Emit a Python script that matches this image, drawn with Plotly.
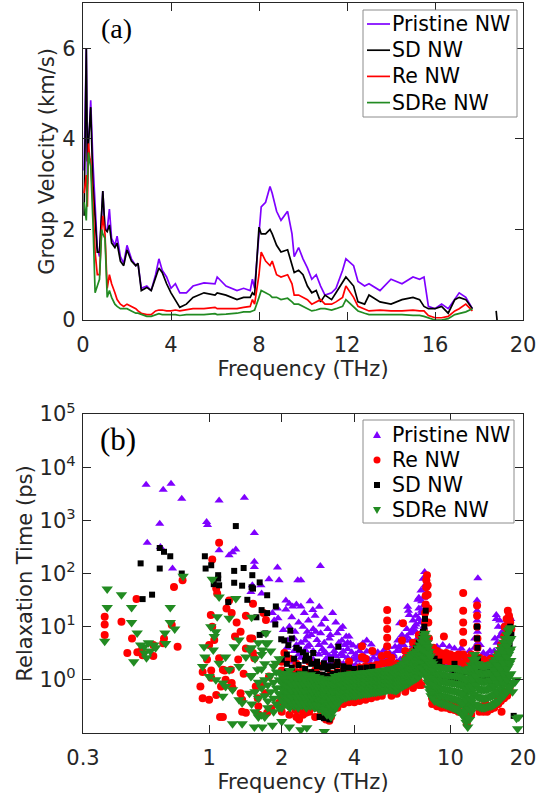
import plotly.graph_objects as go
import math

# ---------------- Panel (a): group velocity (km/s) vs frequency (THz) ----------------
freq_a = [0.05, 0.15, 0.2, 0.25, 0.3, 0.35, 0.45, 0.55, 0.65, 0.75, 0.85, 0.9, 1.0, 1.1, 1.2, 1.3,
          1.45, 1.55, 1.7, 1.85, 2.0, 2.2, 2.4, 2.5, 2.65, 2.9, 3.1, 3.3, 3.45, 3.6, 3.8, 4.0,
          4.2, 4.4, 4.7, 5.0, 5.5, 6.0, 6.1, 6.5, 7.0, 7.3, 7.6, 7.7, 7.8, 8.0, 8.1, 8.3,
          8.5, 8.6, 8.8, 9.0, 9.3, 9.5, 9.6, 9.8, 10.0, 10.2, 10.4, 10.6, 10.8, 11.0, 11.3, 11.5,
          11.8, 11.95, 12.3, 12.5, 12.8, 13.0, 13.5, 14.0, 14.5, 15.0, 15.3, 15.5, 15.7, 16.0,
          16.3, 16.6, 16.9, 17.1, 17.4, 17.7]
vg_pristine = [3.3, 6.0, 3.0, 4.0, 4.3, 4.85, 3.5, 2.5, 1.6, 1.4, 2.2, 2.85, 2.0, 2.0, 2.45, 1.8,
               1.65, 1.85, 1.4, 1.25, 1.65, 1.35, 1.2, 1.25, 0.7, 0.75, 0.65, 1.0, 1.35, 1.1, 0.95, 0.7,
               0.8, 0.6, 0.6, 0.75, 0.82, 0.8, 0.95, 0.75, 0.65, 0.7, 0.65, 0.9, 0.7, 1.9, 2.5, 2.6,
               2.95, 2.8, 2.4, 2.2, 2.4, 1.9, 1.4, 1.6, 1.35, 1.15, 0.9, 1.0, 0.75, 0.55, 0.6, 0.7,
               1.1, 1.35, 1.2, 0.85, 0.75, 0.8, 0.65, 0.9, 0.8, 0.95, 0.9, 0.95, 0.3, 0.25,
               0.35, 0.25, 0.45, 0.6, 0.5, 0.25]
vg_sd = [2.3, 6.0, 3.5, 4.0, 4.2, 4.7, 3.0, 2.2, 1.5, 1.5, 2.3, 2.85, 2.0, 1.95, 2.1, 1.7,
         1.6, 1.7, 1.3, 1.2, 1.55, 1.3, 1.2, 1.25, 0.65, 0.72, 0.65, 0.95, 1.15, 1.05, 0.8, 0.6,
         0.45, 0.28, 0.35, 0.5, 0.6, 0.55, 0.6, 0.55, 0.45, 0.5, 0.5, 0.6, 0.55, 2.05, 1.9, 1.9,
         2.0, 1.9, 1.65, 1.5, 1.55, 1.2, 1.05, 1.1, 1.0, 0.75, 0.6, 0.65, 0.4, 0.55, 0.45, 0.6,
         0.85, 0.95, 0.75, 0.4, 0.35, 0.55, 0.4, 0.35, 0.45, 0.5, 0.45, 0.3, 0.25, 0.25,
         0.3, 0.15, 0.45, 0.5, 0.45, 0.25]
vg_re = [2.8, 3.2, 2.5, 3.9, 3.6, 3.5, 2.6, 1.5, 1.0, 1.0, 2.0, 2.3, 1.9, 0.7, 1.0, 0.8,
         0.6, 0.45, 0.35, 0.3, 0.35, 0.3, 0.25, 0.2, 0.15, 0.12, 0.12, 0.2, 0.22, 0.22, 0.2, 0.2,
         0.22, 0.2, 0.22, 0.25, 0.25, 0.28, 0.25, 0.25, 0.25, 0.28, 0.3, 0.45, 0.35, 1.0, 1.5, 1.3,
         1.2, 1.3, 1.0, 0.95, 1.0, 0.8, 0.55, 0.55, 0.5, 0.45, 0.35, 0.4, 0.45, 0.35, 0.35, 0.4,
         0.5, 0.75, 0.5, 0.3, 0.25, 0.2, 0.22, 0.2, 0.2, 0.22, 0.2, 0.2, 0.1, 0.05,
         0.05, 0.08, 0.2, 0.25, 0.35, 0.2]
vg_sdre = [2.6, 2.2, 3.0, 3.7, 3.5, 3.4, 2.2, 0.6, 0.75, 0.9, 2.0, 1.9, 1.8, 0.5, 0.65, 0.5,
           0.35, 0.3, 0.25, 0.25, 0.25, 0.2, 0.15, 0.15, 0.12, 0.08, 0.08, 0.12, 0.14, 0.12, 0.12, 0.12,
           0.12, 0.1, 0.12, 0.12, 0.12, 0.14, 0.12, 0.13, 0.15, 0.18, 0.18, 0.2, 0.22, 0.5, 0.65, 0.6,
           0.55, 0.5, 0.5, 0.45, 0.48, 0.4, 0.35, 0.35, 0.3, 0.25, 0.2, 0.22, 0.25, 0.25, 0.22, 0.25,
           0.3, 0.45, 0.28, 0.2, 0.15, 0.12, 0.12, 0.12, 0.12, 0.1, 0.1, 0.08, 0.05, 0.0,
           0.0, 0.03, 0.12, 0.15, 0.18, 0.25]
tail_f = [18.78, 18.8, 18.82]
tail_sd = [0.2, 0.12, 0.0]

# ---------------- Panel (b): relaxation time (ps) vs frequency (THz) ----------------
pristine_pts = [
    (0.548, 4660), (0.645, 3760), (0.695, 4870), (0.77, 2560), (0.624, 865), (0.554, 380), (0.628, 316),
    (0.705, 124), (0.976, 930), (0.985, 820), (1.10, 2370), (1.40, 2660), (1.10, 274), (1.21, 221),
    (1.29, 284), (1.25, 250), (1.54, 577), (1.54, 166), (1.54, 133), (1.51, 60), (1.64, 60), (1.65, 42),
    (1.77, 78), (1.95, 75), (1.92, 130), (1.49, 45), (2.33, 75), (2.4, 75), (2.08, 31), (2.15, 27),
    (2.22, 24), (2.3, 26), (2.4, 24), (2.69, 20.6), (1.92, 22), (1.83, 18), (1.93, 14.4), (2.08, 21),
    (2.45, 10), (2.55, 8), (2.65, 7), (2.8, 5.6), (2.7, 9), (2.15, 10), (2.03, 8.7), (2.3, 4.5),
    (2.5, 3.65), (1.86, 13), (2.89, 138), (2.86, 23.7), (3.25, 18), (3.58, 10), (3.4, 7.5), (3.7, 6.5),
    (3.8, 6.5), (3.65, 4.5), (2.77, 8), (3.0, 5), (2.95, 3.8), (3.2, 4.3), (3.35, 2.8), (3.9, 3.3),
    (4.0, 2.5), (4.1, 2.7), (4.34, 4.9), (4.7, 4.6), (4.5, 3.4), (4.85, 3.1), (5.2, 2.9), (3.05, 2.5),
    (3.3, 3.5), (3.5, 3.0), (3.55, 5.5), (3.75, 3.8), (3.95, 4.4), (4.2, 3.5), (4.4, 2.4), (4.6, 2.2),
    (4.9, 2.0), (5.0, 2.4), (5.4, 2.3), (5.6, 2.6), (5.8, 3.0), (6.05, 5.5), (6.15, 4.0), (6.25, 3.5),
    (5.67, 2.7), (5.67, 2.1), (6.16, 11.6), (6.65, 23.7), (6.7, 20), (6.75, 16.6), (7.33, 32), (7.82, 107),
    (7.7, 80), (7.55, 48), (7.4, 35), (7.0, 13), (7.1, 10), (7.2, 8), (6.9, 8), (6.5, 6), (6.4, 4.5),
    (6.8, 5.5), (7.0, 4.5), (7.3, 6), (7.5, 12), (7.6, 18), (7.75, 25), (7.85, 60), (7.9, 40), (6.6, 9),
    (6.3, 7), (5.9, 4.2), (8.1, 4.5), (8.3, 3.8), (8.5, 3.5), (8.8, 4.2), (9.1, 3.2), (9.3, 4.5),
    (9.6, 3.0), (9.9, 4.2), (10.4, 3.9), (11.0, 3.2), (11.1, 3.9), (11.6, 2.7), (12.0, 3.5), (10.7, 2.6),
    (8.7, 2.6), (9.5, 2.4), (10.2, 2.5), (11.4, 2.2), (12.3, 2.6), (13.0, 81), (12.9, 31), (12.9, 20),
    (12.9, 13), (12.95, 8), (13.0, 5), (13.3, 4.5), (13.7, 3.2), (14.2, 3.0), (14.6, 3.5), (15.0, 2.6),
    (13.9, 2.4), (15.5, 14), (15.8, 10), (15.5, 16.6), (16.0, 13), (16.5, 10), (17.3, 11.6), (17.6, 13),
    (15.3, 6), (16.2, 7), (16.8, 8), (17.8, 14),
    (2.12, 5.5), (2.2, 15), (2.27, 8), (2.35, 12), (2.48, 18), (2.58, 13), (2.62, 30), (2.75, 16),
    (2.92, 11), (3.02, 14), (3.1, 9), (3.18, 7), (3.35, 12), (3.5, 9), (2.5, 5.5), (2.35, 3), (2.6, 4.5),
    (2.9, 7.5), (3.05, 3.2), (3.6, 3.4), (3.85, 4.8), (4.15, 4.2), (4.5, 5.5), (4.65, 3.5), (5.0, 3.3),
    (5.3, 3.6), (5.55, 4.2),
]
pristine_band = {
    2.1: [2.5, 4], 2.25: [2.2, 3.5, 6], 2.4: [2.6, 5], 2.55: [2.2, 4.2, 6.5], 2.7: [2.4, 3.5],
    2.85: [2.0, 3.0, 4.5], 3.0: [2.2, 3.4], 3.15: [2.0, 2.8, 6], 3.3: [2.1, 3.0], 3.45: [2.2, 4.0, 5],
    3.6: [2.0, 2.8], 3.75: [2.0, 2.6, 5], 3.9: [1.9, 2.4], 4.05: [1.9, 3.0], 4.2: [1.8, 2.3],
    4.4: [1.8, 2.8], 4.6: [1.8, 2.4], 4.8: [1.8, 2.6], 5.0: [1.8, 2.2], 5.2: [1.9, 2.5], 5.4: [1.9, 2.6],
    5.6: [2.0, 3.2], 5.8: [2.0, 2.8], 6.0: [2.2, 3.5], 6.2: [2.4, 4.5], 6.4: [2.6, 5.5], 6.6: [3.0, 6.5],
    6.8: [3.5, 7.5], 7.0: [4, 9], 7.2: [5, 11, 16], 7.4: [6, 14, 22], 7.6: [8, 20, 30], 7.75: [10, 35, 50],
    8.2: [2.5, 3.2], 8.4: [2.2, 3.0], 8.7: [2.0, 3.2], 9.0: [2.0, 2.8], 9.3: [2.0, 3.0], 9.6: [1.9, 2.7],
    9.9: [1.9, 2.6], 10.2: [1.8, 2.8], 10.5: [1.8, 2.5], 10.8: [1.8, 2.6], 11.1: [1.7, 2.4],
    11.4: [1.7, 2.5], 11.7: [1.8, 2.2], 12.0: [2.0, 2.8], 12.3: [2.0, 3.0], 12.6: [2.2, 4, 6],
    13.3: [1.8, 2.5], 13.6: [1.7, 2.3], 14.0: [1.7, 2.4], 14.4: [1.8, 2.6], 14.8: [1.9, 2.8],
    15.2: [2.2, 3.5], 15.6: [2.8, 5], 16.0: [3.5, 6.5], 16.4: [4.5, 8], 16.8: [5.5, 10], 17.2: [7, 12],
    17.6: [9, 15],
}

re_pts = [
    (0.369, 15.4), (0.369, 11), (0.369, 7), (0.433, 12.4), (0.458, 3.2), (0.479, 6), (0.504, 3.3),
    (0.5, 33), (0.527, 3.7), (0.53, 2.9), (0.587, 4.5), (0.587, 2.8), (0.715, 56), (0.70, 10.7),
    (0.645, 4.9), (0.74, 4.2), (0.776, 75), (0.65, 6), (1.10, 380), (1.03, 183), (1.07, 52), (1.08, 42),
    (1.016, 16.6), (1.03, 10), (1.05, 5.6), (1.10, 2.55), (0.92, 0.75), (0.94, 0.45), (1.0, 0.42),
    (1.07, 0.52), (1.12, 0.75), (1.17, 1.0), (1.25, 0.7), (1.35, 0.56), (1.37, 0.25), (1.42, 0.24),
    (1.59, 0.45), (1.61, 0.22), (1.81, 0.29), (1.95, 0.37), (1.14, 0.2), (1.56, 0.75), (1.66, 0.87),
    (1.77, 1.15), (1.51, 6), (1.72, 13.3), (1.42, 3.9), (1.54, 2.55), (1.23, 1.54), (1.14, 1.54),
    (0.98, 2.4), (1.02, 1.5), (1.02, 1.1), (1.0, 4.5), (0.94, 1.4), (1.18, 22), (1.24, 18), (1.42, 16),
    (1.48, 6), (1.52, 3.2), (1.39, 1.3), (1.37, 0.42), (1.24, 0.87), (1.16, 1.5), (1.32, 2.4),
    (1.6, 0.32), (1.74, 0.24), (1.71, 0.56), (1.52, 27), (1.68, 18), (1.21, 31), (1.3, 12), (1.35, 8),
    (1.28, 6.5), (1.11, 0.2), (2.05, 3.2), (2.2, 1.3), (2.36, 0.18), (2.28, 0.27), (2.52, 0.24),
    (2.8, 0.32), (3.15, 0.17), (2.33, 0.27), (2.11, 0.7), (4.3, 2.7), (4.3, 4.3), (4.75, 3.5),
    (5.47, 2.1), (5.47, 3.0), (5.47, 4.3), (5.47, 6.2), (5.47, 9), (5.47, 13), (5.47, 20.6),
    (6.36, 11.6), (6.3, 5.5), (7.75, 3), (7.8, 5), (7.8, 8), (7.85, 12), (7.85, 18), (7.9, 26), (7.9, 38),
    (7.95, 55), (7.95, 75), (8.0, 93), (8.05, 60), (8.05, 40), (8.1, 22), (8.1, 12), (8.15, 6),
    (7.6, 0.8), (9.4, 6.5), (8.5, 4.0), (9.1, 3.2), (9.8, 3.0), (10.8, 3.0), (11.3, 43), (11.3, 20),
    (11.3, 12), (11.3, 8), (11.3, 5), (11.3, 3), (11.4, 2), (11.7, 0.15), (12.1, 0.3), (12.9, 25),
    (12.9, 16), (12.9, 10), (12.95, 6), (12.95, 4), (13.0, 2.5), (17.3, 20), (17.5, 16), (17.1, 14),
    (17.7, 12), (16.8, 10), (17.9, 9), (16.3, 0.25), (15.8, 0.35), (14.0, 0.35), (14.8, 0.3),
]
re_band = {
    2.0: [0.25, 0.5, 1.5, 2.2], 2.15: [0.22, 0.35, 1.2, 2.5], 2.3: [0.2, 0.3, 1.4, 2.0],
    2.45: [0.22, 0.28, 1.6], 2.6: [0.25, 0.35, 1.3, 2.2], 2.75: [0.2, 0.3, 1.5], 2.9: [0.22, 0.35, 1.2, 1.8],
    3.05: [0.18, 0.25, 1.1], 3.2: [0.2, 0.3, 1.3], 3.4: [0.3, 0.38, 1.4, 2.0], 3.6: [0.35, 0.42, 1.5],
    3.8: [0.38, 0.45, 1.6, 2.2], 4.0: [0.38, 0.45, 1.5], 4.2: [0.4, 0.48, 1.7], 4.45: [0.42, 0.5, 1.8, 2.5],
    4.7: [0.45, 0.52, 1.8], 4.95: [0.48, 0.55, 1.9], 5.2: [0.5, 0.58, 2.0, 2.8], 5.7: [0.5, 0.6, 1.9, 2.6],
    6.0: [0.55, 0.62, 2.0], 6.5: [0.6, 0.7, 2.5, 3.5], 7.0: [0.7, 0.8, 3.5, 5], 7.4: [0.8, 0.95, 4.5, 7],
    8.4: [0.35, 0.45, 2.4, 3.4], 8.8: [0.32, 0.4, 2.5, 3.5], 9.2: [0.3, 0.4, 2.2, 3.0],
    9.6: [0.3, 0.38, 2.3, 3.2], 10.0: [0.28, 0.36, 2.2, 3.0], 10.4: [0.27, 0.34, 2.0, 2.8],
    10.8: [0.25, 0.32, 2.2, 2.8], 11.6: [0.2, 0.25, 2.0, 2.6], 12.2: [0.22, 0.3, 2.2, 3.0],
    13.2: [0.25, 0.32, 2.0, 2.6], 13.7: [0.25, 0.3, 1.8, 2.4], 14.2: [0.25, 0.3, 2.0],
    14.7: [0.28, 0.32, 1.9, 2.5], 15.2: [0.3, 0.35, 2.0], 15.7: [0.35, 0.4, 3.0], 16.2: [0.4, 0.5, 4.5],
    16.7: [0.45, 0.55, 6.5], 17.2: [0.5, 0.6, 9], 17.6: [0.6, 0.7, 14],
}

sd_pts = [
    (0.52, 155), (0.53, 33), (0.58, 40), (0.624, 302), (0.65, 256), (0.69, 211), (0.624, 124), (0.77, 100),
    (0.96, 211), (0.967, 124), (1.02, 143), (1.045, 63), (1.09, 93), (1.09, 80), (1.2, 29), (1.29, 780),
    (1.27, 112), (1.27, 67), (1.37, 59), (1.39, 127), (1.44, 32), (1.51, 93), (1.52, 52), (1.57, 15),
    (1.62, 68), (1.65, 20.5), (1.74, 39), (1.74, 18), (1.62, 7), (1.71, 7.5), (1.89, 24), (1.88, 11),
    (1.99, 5.8), (2.17, 8.4), (2.13, 4.5), (2.36, 3.7), (2.0, 2.4), (2.52, 2.9), (2.7, 3.2), (2.99, 2.05),
    (3.2, 2.4), (2.87, 0.2), (2.99, 0.19), (3.43, 4.2), (1.5, 55), (1.1, 60), (2.05, 5.5), (2.1, 3.0),
    (2.2, 6.0), (2.25, 2.5), (2.3, 4.0), (2.45, 3.3), (2.6, 2.5), (2.8, 2.2), (3.1, 1.8), (3.4, 2.2),
    (3.05, 0.3), (3.1, 0.22), (3.15, 0.18), (3.2, 0.25), (3.0, 0.45), (7.0, 3.0), (7.2, 4.0), (7.4, 5),
    (7.6, 6), (7.7, 8), (7.8, 10), (7.85, 14), (7.9, 20), (7.7, 4), (7.8, 3), (8.2, 3), (8.6, 2.5),
    (9.0, 2.2), (10.4, 2.0), (12.9, 10), (12.9, 6), (12.95, 4), (13.0, 2.5), (12.85, 1.8), (17.7, 10),
    (17.9, 7), (17.4, 8), (18.3, 0.21),
]
sd_band = {
    2.1: [1.4, 2.0], 2.2: [1.2, 1.7], 2.35: [1.3, 1.9], 2.5: [1.2, 1.6, 2.3], 2.65: [1.1, 1.4, 2.0],
    2.8: [1.0, 1.3, 1.8], 2.95: [0.95, 1.25, 1.7], 3.1: [0.9, 1.2, 1.6], 3.25: [1.0, 1.3, 1.8],
    3.4: [1.1, 1.4, 1.9], 3.6: [1.1, 1.4, 1.8], 3.8: [1.0, 1.3, 1.7], 4.0: [1.0, 1.25, 1.6],
    4.25: [1.05, 1.3, 1.65], 4.5: [1.05, 1.3, 1.7], 4.75: [1.1, 1.35, 1.75], 5.0: [1.15, 1.4],
    5.3: [1.2, 1.45], 5.6: [1.2, 1.5], 5.9: [1.25, 1.55], 6.2: [1.3, 1.7], 6.5: [1.5, 2.0], 6.8: [1.8, 2.5],
    7.1: [2.2, 3.2], 7.4: [2.8, 4.2], 8.3: [1.5, 2.2], 8.6: [1.3, 1.9], 8.9: [1.25, 1.8], 9.2: [1.2, 1.7],
    9.5: [1.2, 1.65], 9.8: [1.15, 1.6], 10.1: [1.1, 1.55], 10.4: [1.1, 1.5], 10.7: [1.05, 1.5],
    11.0: [1.0, 1.45], 11.3: [1.0, 1.4], 11.6: [0.95, 1.4], 11.9: [1.0, 1.5], 12.2: [1.2, 1.8],
    12.5: [1.1, 1.6], 13.2: [1.2, 1.6], 13.6: [1.1, 1.5], 14.0: [1.1, 1.5], 14.4: [1.15, 1.55],
    14.8: [1.2, 1.6], 15.2: [1.3, 1.8], 15.6: [1.5, 2.2], 16.0: [1.8, 2.8], 16.4: [2.2, 3.5],
    16.8: [2.8, 4.5], 17.2: [3.5, 6], 17.6: [4.5, 8],
}

sdre_pts = [
    (0.369, 5.3), (0.378, 51), (0.378, 23), (0.433, 40), (0.477, 23), (0.477, 12), (0.503, 7.6),
    (0.487, 2.2), (0.538, 4.2), (0.55, 2.6), (0.56, 5), (0.57, 3.5), (0.59, 4.5), (0.656, 7.6),
    (0.66, 4.8), (0.69, 23), (0.69, 12), (0.72, 9), (0.78, 89), (0.52, 4.5), (0.54, 3.2), (0.6, 4),
    (1.03, 78), (1.10, 36), (1.29, 34), (1.08, 15.4), (1.21, 14.4), (1.016, 10), (1.066, 8), (1.05, 6.5),
    (0.953, 4.2), (0.96, 2.7), (0.94, 1.78), (1.0, 1.15), (1.066, 1.0), (1.14, 0.87), (1.17, 0.75),
    (1.25, 0.65), (1.21, 1.54), (1.33, 1.78), (1.27, 4.2), (1.33, 5.6), (1.42, 2.7), (1.49, 1.15),
    (1.47, 0.56), (1.37, 0.37), (1.33, 0.42), (1.14, 0.49), (1.25, 0.15), (1.37, 0.15), (1.54, 0.13),
    (1.66, 0.13), (1.83, 0.14), (2.0, 0.165), (2.15, 0.13), (2.4, 0.115), (1.04, 3.65), (1.10, 2.05),
    (1.17, 2.7), (1.72, 7.5), (1.72, 4.9), (1.89, 2.05), (2.0, 1.33), (2.37, 1.15), (1.66, 3.65),
    (1.47, 3.65), (1.59, 1.54), (2.54, 0.125), (3.0, 0.107), (18.5, 0.9), (18.7, 1.0), (18.8, 0.19),
    (19.0, 0.12), (19.2, 0.2),
]
# dense band of the SDRe data, listed column by column (frequency: relaxation times)
sdre_band = {
    1.5: [0.35, 1.2, 4, 15], 1.55: [0.6, 2.5, 0.25], 1.6: [0.9, 0.45, 5, 0.2], 1.65: [0.7, 1.6, 3, 0.22],
    1.7: [0.5, 1.0, 2, 0.2], 1.75: [0.8, 0.4, 5, 0.3], 1.8: [0.6, 1.2, 3.5], 1.85: [0.45, 0.9, 1.8, 0.25],
    1.9: [0.7, 0.35, 1.4], 1.95: [0.55, 1.0, 0.3, 2.5],
    2.0: [0.3, 0.42, 0.55, 0.7, 0.9, 1.2], 2.08: [0.35, 0.45, 0.6, 0.75, 0.95, 1.3],
    2.16: [0.3, 0.4, 0.52, 0.68, 0.85, 1.1, 1.5], 2.25: [0.32, 0.44, 0.58, 0.75, 0.95, 1.25],
    2.34: [0.3, 0.4, 0.55, 0.7, 0.9, 1.15], 2.43: [0.33, 0.45, 0.6, 0.78, 1.0, 1.3],
    2.53: [0.3, 0.42, 0.55, 0.72, 0.9, 1.2], 2.63: [0.32, 0.44, 0.58, 0.75, 0.95, 1.25],
    2.74: [0.3, 0.4, 0.53, 0.7, 0.88, 1.15], 2.85: [0.28, 0.38, 0.5, 0.65, 0.85, 1.1],
    2.96: [0.26, 0.36, 0.48, 0.62, 0.8, 1.05], 3.08: [0.22, 0.3, 0.42, 0.56, 0.75, 1.0],
    3.2: [0.2, 0.28, 0.4, 0.55, 0.72, 0.95], 3.33: [0.3, 0.4, 0.52, 0.68, 0.88, 1.15],
    3.46: [0.4, 0.5, 0.62, 0.78, 0.95, 1.2], 3.6: [0.45, 0.55, 0.68, 0.82, 1.0, 1.25],
    3.75: [0.48, 0.58, 0.7, 0.85, 1.02, 1.25], 3.9: [0.5, 0.6, 0.72, 0.88, 1.05, 1.3],
    4.05: [0.5, 0.6, 0.73, 0.88, 1.05, 1.3], 4.2: [0.52, 0.62, 0.75, 0.9, 1.08, 1.32],
    4.37: [0.55, 0.65, 0.78, 0.92, 1.1, 1.35], 4.54: [0.55, 0.66, 0.8, 0.95, 1.12, 1.35],
    4.72: [0.58, 0.68, 0.82, 0.97, 1.15, 1.4], 4.9: [0.58, 0.7, 0.83, 0.98, 1.18, 1.42],
    5.1: [0.6, 0.72, 0.85, 1.0, 1.2, 1.45], 5.3: [0.62, 0.74, 0.87, 1.02, 1.22, 1.5],
    5.5: [0.65, 0.76, 0.9, 1.05, 1.25, 1.55], 5.72: [0.65, 0.78, 0.92, 1.08, 1.3, 1.6],
    5.95: [0.62, 0.75, 0.9, 1.1, 1.32, 1.65], 6.18: [0.7, 0.85, 1.0, 1.2, 1.45, 1.8],
    6.42: [0.78, 0.92, 1.1, 1.35, 1.65, 2.1], 6.67: [0.85, 1.0, 1.2, 1.5, 1.9, 2.5],
    6.93: [0.95, 1.15, 1.4, 1.75, 2.2, 3.0], 7.2: [1.05, 1.3, 1.6, 2.0, 2.6, 3.5],
    7.48: [1.2, 1.5, 1.9, 2.5, 3.3, 4.5], 7.7: [1.4, 1.8, 2.3, 3.0, 4.2, 6.0],
    7.85: [1.6, 2.1, 2.8, 3.8, 5.2, 7.5], 8.0: [1.1, 1.5, 2.0, 2.7, 3.6, 5.0],
    8.15: [0.7, 0.95, 1.3, 1.8, 2.5, 3.4], 8.32: [0.5, 0.68, 0.9, 1.2, 1.6, 2.2],
    8.6: [0.4, 0.55, 0.75, 1.0, 1.35, 1.8], 8.9: [0.38, 0.52, 0.7, 0.95, 1.3, 1.75],
    9.2: [0.36, 0.5, 0.68, 0.92, 1.25, 1.7], 9.55: [0.34, 0.48, 0.66, 0.9, 1.22, 1.65],
    9.9: [0.32, 0.46, 0.64, 0.88, 1.2, 1.65], 10.25: [0.3, 0.44, 0.62, 0.86, 1.2, 1.7],
    10.6: [0.28, 0.42, 0.6, 0.85, 1.18, 1.6], 11.0: [0.25, 0.38, 0.56, 0.8, 1.12, 1.55],
    11.4: [0.2, 0.32, 0.5, 0.75, 1.05, 1.5], 11.8: [0.13, 0.2, 0.35, 0.6, 0.95, 1.45],
    12.2: [0.25, 0.38, 0.58, 0.88, 1.3, 1.9], 12.6: [0.35, 0.55, 0.85, 1.3, 2.0, 3.0],
    13.0: [0.32, 0.48, 0.7, 1.0, 1.4, 2.0], 13.45: [0.3, 0.45, 0.65, 0.92, 1.3, 1.8],
    13.9: [0.3, 0.45, 0.65, 0.92, 1.3, 1.8], 14.4: [0.32, 0.47, 0.68, 0.95, 1.35, 1.9],
    14.9: [0.33, 0.5, 0.72, 1.0, 1.4, 2.0], 15.4: [0.36, 0.55, 0.8, 1.15, 1.65, 2.4],
    15.9: [0.4, 0.62, 0.95, 1.4, 2.1, 3.2], 16.4: [0.48, 0.75, 1.15, 1.8, 2.8, 4.3],
    16.9: [0.55, 0.9, 1.45, 2.3, 3.7, 6.0], 17.4: [0.65, 1.1, 1.8, 3.0, 5.0, 8.5],
    17.8: [0.8, 1.3, 2.3, 3.8, 6.0, 9.5], 18.1: [0.6, 0.9],
}
# further SDRe points lying between the columns above
sdre_band_mid = {
    2.04: [0.36, 0.48, 0.62, 0.8, 1.05], 2.12: [0.33, 0.43, 0.56, 0.72, 0.92, 1.2],
    2.2: [0.36, 0.48, 0.63, 0.82, 1.1], 2.3: [0.35, 0.47, 0.62, 0.8, 1.05],
    2.38: [0.36, 0.48, 0.64, 0.83, 1.1], 2.48: [0.35, 0.48, 0.62, 0.8, 1.05],
    2.58: [0.36, 0.48, 0.64, 0.82, 1.08], 2.68: [0.34, 0.46, 0.6, 0.78, 1.0],
    2.8: [0.33, 0.44, 0.58, 0.75, 0.97], 2.9: [0.31, 0.42, 0.55, 0.72, 0.93],
    3.02: [0.28, 0.38, 0.5, 0.65, 0.86], 3.14: [0.24, 0.34, 0.46, 0.62, 0.83],
    3.26: [0.25, 0.34, 0.46, 0.6, 0.8, 1.05], 3.4: [0.35, 0.45, 0.57, 0.72, 0.9, 1.1],
    3.53: [0.42, 0.52, 0.64, 0.8, 0.98, 1.2], 3.68: [0.46, 0.56, 0.68, 0.84, 1.0, 1.22],
    3.82: [0.49, 0.6, 0.72, 0.87, 1.05, 1.28], 3.98: [0.5, 0.61, 0.74, 0.9, 1.08, 1.3],
    4.12: [0.52, 0.63, 0.76, 0.92, 1.1, 1.32], 4.28: [0.53, 0.65, 0.78, 0.94, 1.12, 1.34],
    4.45: [0.55, 0.67, 0.8, 0.96, 1.14, 1.36], 4.63: [0.56, 0.68, 0.82, 0.98, 1.16, 1.38],
    4.8: [0.58, 0.7, 0.84, 1.0, 1.18, 1.42], 5.0: [0.6, 0.72, 0.86, 1.02, 1.22, 1.45],
    5.2: [0.61, 0.73, 0.87, 1.04, 1.24, 1.48], 5.4: [0.63, 0.75, 0.9, 1.06, 1.27, 1.52],
    5.6: [0.65, 0.77, 0.92, 1.1, 1.3, 1.56], 5.83: [0.64, 0.77, 0.92, 1.1, 1.32, 1.6],
    6.06: [0.66, 0.8, 0.96, 1.16, 1.4, 1.72], 6.3: [0.74, 0.88, 1.05, 1.28, 1.55, 1.95],
    6.55: [0.82, 0.96, 1.15, 1.42, 1.78, 2.3], 6.8: [0.9, 1.08, 1.3, 1.62, 2.05, 2.75],
    7.06: [1.0, 1.22, 1.5, 1.88, 2.4, 3.2], 7.34: [1.12, 1.4, 1.75, 2.25, 2.95, 4.0],
    7.6: [1.3, 1.65, 2.1, 2.75, 3.7, 5.2], 7.78: [1.5, 1.95, 2.55, 3.4, 4.7, 6.8],
    7.93: [1.35, 1.8, 2.4, 3.2, 4.4, 6.2], 8.08: [0.9, 1.2, 1.65, 2.2, 3.0, 4.2],
    8.24: [0.6, 0.8, 1.1, 1.5, 2.0, 2.8], 8.45: [0.45, 0.6, 0.82, 1.1, 1.5, 2.0],
    8.75: [0.4, 0.55, 0.72, 0.98, 1.32, 1.78], 9.05: [0.37, 0.5, 0.69, 0.93, 1.27, 1.72],
    9.38: [0.35, 0.49, 0.67, 0.91, 1.23, 1.68], 9.72: [0.33, 0.47, 0.65, 0.89, 1.21, 1.65],
    10.08: [0.31, 0.45, 0.63, 0.87, 1.2, 1.68], 10.42: [0.29, 0.43, 0.61, 0.85, 1.19, 1.65],
    10.8: [0.26, 0.4, 0.58, 0.82, 1.15, 1.58], 11.2: [0.22, 0.35, 0.53, 0.78, 1.08, 1.52],
    11.6: [0.16, 0.25, 0.42, 0.68, 1.0, 1.48], 12.0: [0.18, 0.28, 0.45, 0.72, 1.1, 1.65],
    12.4: [0.3, 0.46, 0.7, 1.05, 1.6, 2.4], 12.8: [0.33, 0.5, 0.78, 1.15, 1.7, 2.5],
    13.22: [0.31, 0.46, 0.68, 0.96, 1.35, 1.9], 13.68: [0.3, 0.45, 0.65, 0.92, 1.3, 1.8],
    14.15: [0.31, 0.46, 0.66, 0.94, 1.32, 1.85], 14.65: [0.32, 0.48, 0.7, 0.98, 1.38, 1.95],
    15.15: [0.34, 0.52, 0.76, 1.08, 1.52, 2.2], 15.65: [0.38, 0.58, 0.88, 1.28, 1.88, 2.8],
    16.15: [0.44, 0.68, 1.05, 1.6, 2.45, 3.7], 16.65: [0.5, 0.82, 1.3, 2.05, 3.2, 5.1],
    17.15: [0.6, 1.0, 1.62, 2.65, 4.3, 7.2], 17.6: [0.72, 1.2, 2.05, 3.4, 5.5, 9.0],
}

PURPLE = "#7F00FF"
RED = "#FF0000"
BLACK = "#000000"
GREEN = "#228B22"
AX = "#262626"
FONT = "DejaVu Sans"

fig = go.Figure()

# ---- panel (a) lines
series_a = [("Pristine NW", vg_pristine, PURPLE), ("SD NW", vg_sd, BLACK),
            ("Re NW", vg_re, RED), ("SDRe NW", vg_sdre, GREEN)]
for name, vals, col in series_a:
    fig.add_trace(go.Scatter(x=freq_a, y=vals, mode="lines", name=name, showlegend=False,
                             line=dict(color=col, width=1.7), xaxis="x", yaxis="y"))
fig.add_trace(go.Scatter(x=tail_f, y=tail_sd, mode="lines", showlegend=False,
                         line=dict(color=BLACK, width=1.7), xaxis="x", yaxis="y"))


# ---- panel (b) scatter
def collect(pts, *bands):
    xs = [p[0] for p in pts]
    ys = [p[1] for p in pts]
    for band in bands:
        for f, taus in band.items():
            for t in taus:
                xs.append(f)
                ys.append(t)
    return xs, ys


series_b = [("Pristine NW", collect(pristine_pts, pristine_band), "triangle-up", PURPLE, 8),
            ("Re NW", collect(re_pts, re_band), "circle", RED, 8),
            ("SD NW", collect(sd_pts, sd_band), "square", BLACK, 6),
            ("SDRe NW", collect(sdre_pts, sdre_band, sdre_band_mid), "triangle-down", GREEN, 10)]
for name, (xs, ys), sym, col, size in series_b:
    fig.add_trace(go.Scatter(x=xs, y=ys, mode="markers", name=name, showlegend=False,
                             marker=dict(symbol=sym, color=col, size=size, line=dict(width=0)),
                             xaxis="x2", yaxis="y2"))

# ---- geometry helpers (pixel -> paper) for legends / labels
L, R, T, B, W, H = 83, 30, 3, 61, 553, 794
PW, PH = W - L - R, H - T - B


def px(x):
    return (x - L) / PW


def py(y):
    return 1 - (y - T) / PH


shapes = []
annotations = []
leg_font = dict(family=FONT, size=20.5, color="black")

# legend (a)
shapes.append(dict(type="rect", xref="paper", yref="paper", x0=px(363), x1=px(517), y0=py(117), y1=py(10),
                   line=dict(color="#8c8c8c", width=1), fillcolor="white", layer="above"))
for i, (name, _, col) in enumerate(series_a):
    yy = py(24 + 26.2 * i)
    shapes.append(dict(type="line", xref="paper", yref="paper", x0=px(367), x1=px(390), y0=yy, y1=yy,
                       line=dict(color=col, width=1.7), layer="above"))
    annotations.append(dict(text=name, xref="paper", yref="paper", x=px(390), y=yy, xanchor="left",
                            yanchor="middle", showarrow=False, font=leg_font))

# legend (b)
shapes.append(dict(type="rect", xref="paper", yref="paper", x0=px(363), x1=px(514), y0=py(523), y1=py(420),
                   line=dict(color="#8c8c8c", width=1), fillcolor="white", layer="above"))
marker_paths = {
    "triangle-up": "M-4,-3 L4,-3 L0,4 Z",
    "triangle-down": "M-4,3 L4,3 L0,-4 Z",
    "square": "M-3,-3 L3,-3 L3,3 L-3,3 Z",
}
for i, (name, _, sym, col, _s) in enumerate(series_b):
    yy = py(435 + 25 * i)
    if sym == "circle":
        shapes.append(dict(type="circle", xref="paper", yref="paper", xsizemode="pixel", ysizemode="pixel",
                           xanchor=px(377), yanchor=yy, x0=-3.5, x1=3.5, y0=-3.5, y1=3.5,
                           fillcolor=col, line=dict(width=0), layer="above"))
    else:
        shapes.append(dict(type="path", xref="paper", yref="paper", xsizemode="pixel", ysizemode="pixel",
                           xanchor=px(377), yanchor=yy, path=marker_paths[sym],
                           fillcolor=col, line=dict(width=0), layer="above"))
    annotations.append(dict(text=name, xref="paper", yref="paper", x=px(390), y=yy, xanchor="left",
                            yanchor="middle", showarrow=False, font=leg_font))

annotations.append(dict(text="(a)", xref="paper", yref="paper", x=px(116), y=py(28), xanchor="center",
                        yanchor="middle", showarrow=False,
                        font=dict(family="Liberation Serif", size=28, color="black")))
annotations.append(dict(text="(b)", xref="paper", yref="paper", x=px(118), y=py(439), xanchor="center",
                        yanchor="middle", showarrow=False,
                        font=dict(family="Liberation Serif", size=31, color="black")))

tick_font = dict(family=FONT, size=21, color=AX)
title_font = dict(family=FONT, size=21, color=AX)
axis_common = dict(showline=True, linecolor=AX, linewidth=1.3, mirror="ticks", ticks="inside",
                   ticklen=8, tickwidth=1.3, tickcolor=AX, showgrid=False, zeroline=False,
                   tickfont=tick_font, automargin=False)

fig.update_layout(
    width=W, height=H,
    margin=dict(l=L, r=R, t=T, b=B, autoexpand=False),
    paper_bgcolor="white", plot_bgcolor="white",
    showlegend=False,
    xaxis=dict(domain=[0, 1], anchor="y", range=[0, 20], tickvals=[0, 4, 8, 12, 16, 20],
               ticklabelstandoff=6,
               title=dict(text="Frequency (THz)", font=title_font, standoff=2), **axis_common),
    yaxis=dict(domain=[py(320), 1], anchor="x", range=[0, 7], tickvals=[0, 2, 4, 6],
               ticklabelstandoff=2,
               title=dict(text="Group Velocity (km/s)", font=title_font, standoff=1), **axis_common),
    xaxis2=dict(domain=[0, 1], anchor="y2", type="log", range=[math.log10(0.3), math.log10(20)],
                tickvals=[0.3, 1, 2, 4, 10, 20], ticktext=["0.3", "1", "2", "4", "10", "20"],
                ticklabelstandoff=6,
                title=dict(text="Frequency (THz)", font=title_font, standoff=2), **axis_common),
    yaxis2=dict(domain=[0, py(414)], anchor="x2", type="log", range=[-1, 5],
                tickvals=[1, 10, 100, 1000, 10000, 100000],
                ticktext=["10<sup>0</sup>", "10<sup>1</sup>", "10<sup>2</sup>", "10<sup>3</sup>",
                          "10<sup>4</sup>", "10<sup>5</sup>"],
                ticklabelstandoff=2,
                title=dict(text="Relaxation Time (ps)", font=title_font, standoff=1), **axis_common),
    shapes=shapes,
    annotations=annotations,
)

fig.write_html("out.html", config={"displayModeBar": False},
               post_script="document.body.style.margin='0';")
